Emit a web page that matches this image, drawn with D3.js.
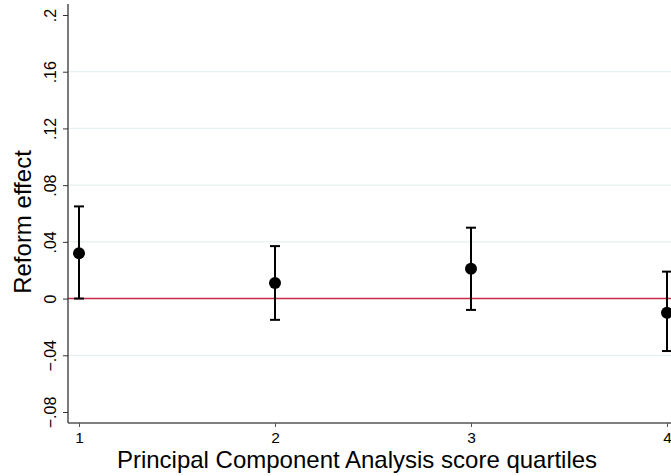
<!DOCTYPE html>
<html>
<head>
<meta charset="utf-8">
<script src="https://cdn.jsdelivr.net/npm/d3@7"></script>
<style>
  body { margin: 0; background: #fff; }
  text { font-family: "Liberation Sans", Arial, sans-serif; }
</style>
</head>
<body>
<div id="chart-area"></div>
<script>
// reform effect by PCA score quartile, with confidence intervals
let quartiles = [1, 2, 3, 4];
let effects = [0.032, 0.011, 0.021, -0.010];
let lowerCI = [0.000, -0.015, -0.008, -0.037];
let upperCI = [0.065, 0.037, 0.050, 0.019];
let yTicks = [-0.08, -0.04, 0, 0.04, 0.08, 0.12, 0.16, 0.2];
let yTickLabels = ["\u2212.08", "\u2212.04", "0", ".04", ".08", ".12", ".16", ".2"];
let gridTicks = [-0.04, 0.04, 0.08, 0.12, 0.16];

let width = 671, height = 476;

let svg = d3.select("#chart-area").append("svg")
	.attr("width", width)
	.attr("height", height)

let x = d3.scaleLinear().domain([1, 4]).range([79, 667]);
let y = d3.scaleLinear().domain([-0.08, 0.2]).range([412, 15]);

let axisLeftX = 68, axisBottomY = 423;

// grid lines
svg.selectAll(".grid")
	.data(gridTicks)
	.enter().append("line")
	.attr("class", "grid")
	.attr("x1", axisLeftX).attr("x2", width)
	.attr("y1", d => y(d)).attr("y2", d => y(d))
	.attr("stroke", "#e6eff2")
	.attr("stroke-width", 1.3)

// zero line
svg.append("line")
	.attr("x1", axisLeftX).attr("x2", width)
	.attr("y1", y(0)).attr("y2", y(0))
	.attr("stroke", "#c8284a")
	.attr("stroke-width", 1.5)

// y axis
let yAxis = d3.axisLeft(y)
	.tickValues(yTicks)
	.tickSize(5)
	.tickFormat((d, i) => yTickLabels[i]);

let gy = svg.append("g")
	.attr("transform", "translate(" + axisLeftX + ",0)")
	.call(yAxis);
gy.select(".domain").attr("d", "M-0," + 4 + "V" + axisBottomY).attr("stroke", "#333").attr("stroke-width", 1.3);
gy.selectAll(".tick line").attr("stroke", "#333");
gy.selectAll(".tick text")
	.attr("font-size", 16)
	.attr("fill", "#000")
	.attr("x", 0).attr("dy", 0)
	.attr("text-anchor", "middle")
	.attr("transform", "translate(-12,0) rotate(-90)")

// x axis
let xAxis = d3.axisBottom(x)
	.tickValues(quartiles)
	.tickSize(4)
	.tickFormat(d3.format("d"));

let gx = svg.append("g")
	.attr("transform", "translate(0," + axisBottomY + ")")
	.call(xAxis);
gx.select(".domain").attr("d", "M" + axisLeftX + ",0H" + width).attr("stroke", "#555").attr("stroke-width", 1.3);
gx.selectAll(".tick line").attr("stroke", "#555");
gx.selectAll(".tick text")
	.attr("font-size", 15.5)
	.attr("fill", "#000")
	.attr("y", 20).attr("dy", 0)

// axis titles
svg.append("text")
	.attr("transform", "translate(31,222) rotate(-90)")
	.attr("text-anchor", "middle")
	.attr("font-size", 24)
	.text("Reform effect")

svg.append("text")
	.attr("x", 357).attr("y", 468)
	.attr("text-anchor", "middle")
	.attr("font-size", 24)
	.text("Principal Component Analysis score quartiles")

// error bars
let pts = quartiles.map((q, i) => ({q: q, e: effects[i], lo: lowerCI[i], hi: upperCI[i]}));

let bars = svg.selectAll(".ci")
	.data(pts)
	.enter().append("g")
	.attr("class", "ci")
	.attr("stroke", "#000")
	.attr("stroke-width", 2)

bars.append("line")
	.attr("x1", d => x(d.q)).attr("x2", d => x(d.q))
	.attr("y1", d => y(d.lo)).attr("y2", d => y(d.hi))
bars.append("line")
	.attr("x1", d => x(d.q) - 5).attr("x2", d => x(d.q) + 5)
	.attr("y1", d => y(d.hi)).attr("y2", d => y(d.hi))
bars.append("line")
	.attr("x1", d => x(d.q) - 5).attr("x2", d => x(d.q) + 5)
	.attr("y1", d => y(d.lo)).attr("y2", d => y(d.lo))

svg.selectAll(".pt")
	.data(pts)
	.enter().append("circle")
	.attr("class", "pt")
	.attr("cx", d => x(d.q))
	.attr("cy", d => y(d.e))
	.attr("r", 6)
	.attr("fill", "#000")
</script>
</body>
</html>
